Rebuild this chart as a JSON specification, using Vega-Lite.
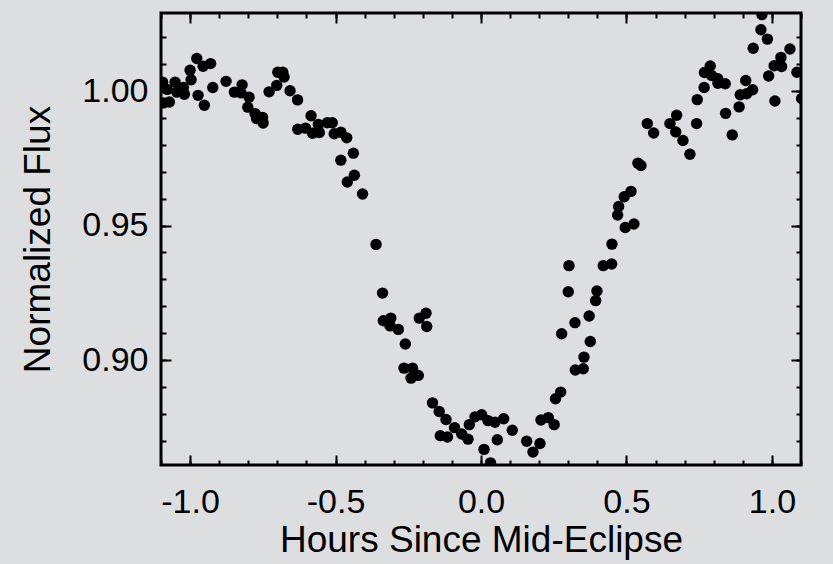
{
  "$schema": "https://vega.github.io/schema/vega-lite/v6.json",
  "width": 640,
  "height": 452,
  "autosize": {"type": "none"},
  "padding": {"left": 161, "top": 13, "right": 32, "bottom": 99},
  "background": "#dddee0",
  "config": {
    "view": {"stroke": "#000000", "strokeWidth": 3, "fill": "#dddee0"},
    "font": "Liberation Sans",
    "axis": {
      "domain": false,
      "grid": false,
      "labelColor": "#000000",
      "titleColor": "#000000",
      "labelFont": "Liberation Sans",
      "titleFont": "Liberation Sans",
      "labelFontSize": 34,
      "titleFontSize": 37,
      "titleFontWeight": "normal",
      "labelOverlap": false,
      "labelFlush": false
    }
  },
  "data": {
    "values": [
      {"hours": -1.0945, "flux": 1.0033}, {"hours": -1.0911, "flux": 0.9956}, {"hours": -1.0711, "flux": 0.9959},
      {"hours": -1.0790, "flux": 1.0006}, {"hours": -1.0515, "flux": 1.0033}, {"hours": -1.0457, "flux": 0.9996},
      {"hours": -1.0230, "flux": 1.0013}, {"hours": -1.0196, "flux": 0.9988}, {"hours": -1.0000, "flux": 1.0077},
      {"hours": -0.9966, "flux": 1.0042}, {"hours": -0.9770, "flux": 1.0121}, {"hours": -0.9725, "flux": 0.9984},
      {"hours": -0.9553, "flux": 1.0092}, {"hours": -0.9296, "flux": 1.0102}, {"hours": -0.9509, "flux": 0.9947},
      {"hours": -0.9220, "flux": 1.0013}, {"hours": -0.8763, "flux": 1.0036}, {"hours": -0.8478, "flux": 0.9996},
      {"hours": -0.8213, "flux": 1.0023}, {"hours": -0.8247, "flux": 0.9993}, {"hours": -0.7973, "flux": 0.9977},
      {"hours": -0.8017, "flux": 0.9940}, {"hours": -0.7766, "flux": 0.9916}, {"hours": -0.7715, "flux": 0.9898},
      {"hours": -0.7509, "flux": 0.9902}, {"hours": -0.7490, "flux": 0.9881}, {"hours": -0.7285, "flux": 0.9997},
      {"hours": -0.7021, "flux": 1.0021}, {"hours": -0.6986, "flux": 1.0070}, {"hours": -0.6814, "flux": 1.0070},
      {"hours": -0.6770, "flux": 1.0052}, {"hours": -0.6564, "flux": 1.0001}, {"hours": -0.6306, "flux": 0.9967},
      {"hours": -0.6299, "flux": 0.9858}, {"hours": -0.6031, "flux": 0.9862}, {"hours": -0.5842, "flux": 0.9908},
      {"hours": -0.5790, "flux": 0.9843}, {"hours": -0.5591, "flux": 0.9876}, {"hours": -0.5557, "flux": 0.9846},
      {"hours": -0.5285, "flux": 0.9882}, {"hours": -0.5113, "flux": 0.9882}, {"hours": -0.5045, "flux": 0.9841},
      {"hours": -0.4818, "flux": 0.9847}, {"hours": -0.4615, "flux": 0.9826}, {"hours": -0.4818, "flux": 0.9743},
      {"hours": -0.4388, "flux": 0.9769}, {"hours": -0.4595, "flux": 0.9662}, {"hours": -0.4354, "flux": 0.9687},
      {"hours": -0.4072, "flux": 0.9617}, {"hours": -0.3608, "flux": 0.9430}, {"hours": -0.3385, "flux": 0.9249},
      {"hours": -0.3357, "flux": 0.9146}, {"hours": -0.3100, "flux": 0.9156}, {"hours": -0.3127, "flux": 0.9127},
      {"hours": -0.2842, "flux": 0.9114}, {"hours": -0.2601, "flux": 0.9060}, {"hours": -0.2120, "flux": 0.9156},
      {"hours": -0.1890, "flux": 0.9174}, {"hours": -0.1866, "flux": 0.9125}, {"hours": -0.2646, "flux": 0.8970},
      {"hours": -0.2354, "flux": 0.8970}, {"hours": -0.2405, "flux": 0.8933}, {"hours": -0.2155, "flux": 0.8943},
      {"hours": -0.1667, "flux": 0.8841}, {"hours": -0.1436, "flux": 0.8809}, {"hours": -0.1203, "flux": 0.8779},
      {"hours": -0.1399, "flux": 0.8719}, {"hours": -0.1151, "flux": 0.8714}, {"hours": -0.0911, "flux": 0.8749},
      {"hours": -0.0663, "flux": 0.8725}, {"hours": -0.0447, "flux": 0.8706}, {"hours": -0.0402, "flux": 0.8760},
      {"hours": -0.0206, "flux": 0.8789}, {"hours": 0.0024, "flux": 0.8797}, {"hours": 0.0241, "flux": 0.8775},
      {"hours": 0.0481, "flux": 0.8769}, {"hours": 0.0103, "flux": 0.8668}, {"hours": 0.0560, "flux": 0.8704},
      {"hours": 0.0326, "flux": 0.8618}, {"hours": 0.0780, "flux": 0.8782}, {"hours": 0.1076, "flux": 0.8739},
      {"hours": 0.1570, "flux": 0.8698}, {"hours": 0.1787, "flux": 0.8658}, {"hours": 0.2027, "flux": 0.8690},
      {"hours": 0.2062, "flux": 0.8777}, {"hours": 0.2313, "flux": 0.8786}, {"hours": 0.2515, "flux": 0.8760},
      {"hours": 0.2560, "flux": 0.8856}, {"hours": 0.2739, "flux": 0.8881}, {"hours": 0.2773, "flux": 0.9098},
      {"hours": 0.3000, "flux": 0.9254}, {"hours": 0.3024, "flux": 0.9351}, {"hours": 0.3230, "flux": 0.9139},
      {"hours": 0.3241, "flux": 0.8963}, {"hours": 0.3515, "flux": 0.8968}, {"hours": 0.3540, "flux": 0.9011},
      {"hours": 0.3756, "flux": 0.9069}, {"hours": 0.3718, "flux": 0.9164}, {"hours": 0.3942, "flux": 0.9221},
      {"hours": 0.3986, "flux": 0.9257}, {"hours": 0.4203, "flux": 0.9351}, {"hours": 0.4491, "flux": 0.9357},
      {"hours": 0.4502, "flux": 0.9431}, {"hours": 0.4959, "flux": 0.9493}, {"hours": 0.5258, "flux": 0.9506},
      {"hours": 0.4698, "flux": 0.9539}, {"hours": 0.4732, "flux": 0.9571}, {"hours": 0.4924, "flux": 0.9607},
      {"hours": 0.5155, "flux": 0.9627}, {"hours": 0.5395, "flux": 0.9732}, {"hours": 0.5498, "flux": 0.9723},
      {"hours": 0.5715, "flux": 0.9879}, {"hours": 0.5935, "flux": 0.9844}, {"hours": 0.6495, "flux": 0.9879},
      {"hours": 0.6725, "flux": 0.9910}, {"hours": 0.6694, "flux": 0.9848}, {"hours": 0.6942, "flux": 0.9816},
      {"hours": 0.7182, "flux": 0.9765}, {"hours": 0.7433, "flux": 0.9968}, {"hours": 0.7412, "flux": 0.9879},
      {"hours": 0.7670, "flux": 1.0013}, {"hours": 0.7680, "flux": 1.0069}, {"hours": 0.7880, "flux": 1.0093},
      {"hours": 0.7928, "flux": 1.0058}, {"hours": 0.8134, "flux": 1.0046}, {"hours": 0.8144, "flux": 1.0029},
      {"hours": 0.8395, "flux": 1.0027}, {"hours": 0.8409, "flux": 0.9917}, {"hours": 0.8636, "flux": 0.9837},
      {"hours": 0.8873, "flux": 0.9941}, {"hours": 0.8911, "flux": 0.9986}, {"hours": 0.9100, "flux": 1.0039},
      {"hours": 0.9131, "flux": 0.9990}, {"hours": 0.9337, "flux": 1.0005}, {"hours": 0.9357, "flux": 1.0159},
      {"hours": 0.9622, "flux": 1.0228}, {"hours": 0.9656, "flux": 1.0284}, {"hours": 0.9845, "flux": 1.0193},
      {"hours": 0.9887, "flux": 1.0056}, {"hours": 1.0103, "flux": 0.9963}, {"hours": 1.0076, "flux": 1.0094},
      {"hours": 1.0333, "flux": 1.0091}, {"hours": 1.0309, "flux": 1.0125}, {"hours": 1.0619, "flux": 1.0156},
      {"hours": 1.0859, "flux": 1.0070}, {"hours": 1.1021, "flux": 0.9972}
    ]
  },
  "resolve": {"axis": {"x": "independent", "y": "independent"}},
  "layer": [
    {
      "mark": {"type": "circle", "size": 130, "color": "#000000", "opacity": 1, "clip": true},
      "encoding": {
        "x": {
          "field": "hours", "type": "quantitative",
          "scale": {"domain": [-1.1, 1.1], "nice": false, "zero": false},
          "axis": {
            "orient": "bottom",
            "title": "Hours Since Mid-Eclipse",
            "tickCount": 5,
            "ticks": true,
            "tickSize": 0,
            "labelExpr": "replace(format(datum.value, '.1f'), '\u2212', '-')",
            "labelPadding": 20,
            "titlePadding": 3
          }
        },
        "y": {
          "field": "flux", "type": "quantitative",
          "scale": {"domain": [0.861, 1.029], "nice": false, "zero": false},
          "axis": {
            "orient": "left",
            "title": "Normalized Flux",
            "tickCount": 4,
            "ticks": true,
            "tickSize": 0,
            "format": ".2f",
            "labelPadding": 13,
            "titlePadding": 24
          }
        }
      }
    },
    {
      "mark": {"type": "circle", "size": 130, "color": "#000000", "opacity": 0, "clip": true},
      "encoding": {
        "x": {
          "field": "hours", "type": "quantitative",
          "scale": {"domain": [-1.1, 1.1], "nice": false, "zero": false},
          "axis": {"orient": "bottom", "title": null, "labels": false, "tickCount": 5, "tickColor": "#000000", "tickWidth": 2, "tickSize": -10}
        },
        "y": {
          "field": "flux", "type": "quantitative",
          "scale": {"domain": [0.861, 1.029], "nice": false, "zero": false},
          "axis": {"orient": "left", "title": null, "labels": false, "tickCount": 4, "tickColor": "#000000", "tickWidth": 2, "tickSize": -10}
        }
      }
    },
    {
      "mark": {"type": "circle", "size": 130, "color": "#000000", "opacity": 0, "clip": true},
      "encoding": {
        "x": {
          "field": "hours", "type": "quantitative",
          "scale": {"domain": [-1.1, 1.1], "nice": false, "zero": false},
          "axis": {"orient": "top", "title": null, "labels": false, "tickCount": 5, "tickColor": "#000000", "tickWidth": 2, "tickSize": -10}
        },
        "y": {
          "field": "flux", "type": "quantitative",
          "scale": {"domain": [0.861, 1.029], "nice": false, "zero": false},
          "axis": {"orient": "right", "title": null, "labels": false, "tickCount": 4, "tickColor": "#000000", "tickWidth": 2, "tickSize": -10}
        }
      }
    },
    {
      "mark": {"type": "circle", "size": 130, "color": "#000000", "opacity": 0, "clip": true},
      "encoding": {
        "x": {
          "field": "hours", "type": "quantitative",
          "scale": {"domain": [-1.1, 1.1], "nice": false, "zero": false},
          "axis": {"orient": "bottom", "title": null, "labels": false, "tickCount": 22, "tickColor": "#000000", "tickWidth": 2, "tickSize": -5}
        },
        "y": {
          "field": "flux", "type": "quantitative",
          "scale": {"domain": [0.861, 1.029], "nice": false, "zero": false},
          "axis": {"orient": "left", "title": null, "labels": false, "tickCount": 17, "tickColor": "#000000", "tickWidth": 2, "tickSize": -5}
        }
      }
    },
    {
      "mark": {"type": "circle", "size": 130, "color": "#000000", "opacity": 0, "clip": true},
      "encoding": {
        "x": {
          "field": "hours", "type": "quantitative",
          "scale": {"domain": [-1.1, 1.1], "nice": false, "zero": false},
          "axis": {"orient": "top", "title": null, "labels": false, "tickCount": 22, "tickColor": "#000000", "tickWidth": 2, "tickSize": -5}
        },
        "y": {
          "field": "flux", "type": "quantitative",
          "scale": {"domain": [0.861, 1.029], "nice": false, "zero": false},
          "axis": {"orient": "right", "title": null, "labels": false, "tickCount": 17, "tickColor": "#000000", "tickWidth": 2, "tickSize": -5}
        }
      }
    }
  ]
}
